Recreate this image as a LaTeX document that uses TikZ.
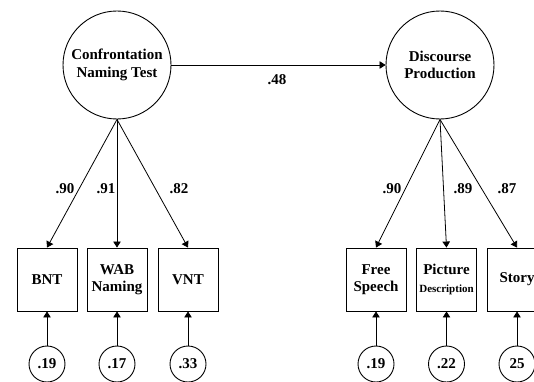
\documentclass[tikz,border=0pt]{standalone}
\usepackage{fontspec}
\setmainfont{Liberation Serif}
\usetikzlibrary{arrows.meta}
\newcommand\semfont{\fontsize{15}{17.6}\selectfont\bfseries}

\begin{document}
\begin{tikzpicture}[x=1pt,y=1pt,
  latent/.style={draw, line width=0.9pt, circle, minimum size=108pt, inner sep=0pt, align=center, font=\semfont},
  indic/.style={draw, line width=0.9pt, minimum width=60pt, minimum height=63pt, inner sep=0pt, align=center, font=\semfont},
  errc/.style={draw, line width=0.9pt, circle, minimum size=36pt, inner sep=0pt, font=\semfont},
  coef/.style={inner sep=0pt, font=\semfont},
  path/.style={line width=0.8pt, -{Triangle[length=6pt,width=7.5pt]}}]
 \clip (0,0) rectangle (534,381);
 % latent factors
 \node[latent] (cnt) at (117,316) {Confrontation\\Naming Test};
 \node[latent] (dp) at (440,316) {Discourse\\Production};
 \draw[path] (cnt) -- (dp);
 \node[coef] (b48) at (277,301) {.48};
 % indicators
 \node[indic] (bnt) at (47,101.5) {BNT};
 \node[indic] (wab) at (117,101.5) {WAB\\Naming};
 \node[indic] (vnt) at (188,101.5) {VNT};
 \node[indic] (fs) at (376,101.5) {Free\\Speech};
 \node[indic] (pic) at (446.5,101.5) {Picture\\{\fontsize{11}{13}\selectfont Description}};
 \node[indic] (sto) at (517,101.5) {Story};
 % loadings
 \foreach \f/\i in {cnt/bnt,cnt/wab,cnt/vnt,dp/fs,dp/pic,dp/sto}
  \draw[path] (\f.south) -- (\i.north);
 \node[coef] (l1) at (65,192) {.90};
 \node[coef] (l2) at (106,192) {.91};
 \node[coef] (l3) at (179,192) {.82};
 \node[coef] (l4) at (392,192) {.90};
 \node[coef] (l5) at (463,192) {.89};
 \node[coef] (l6) at (507,192) {.87};
 % errors
 \foreach \i/\v in {bnt/.19,wab/.17,vnt/.33,fs/.19,pic/.22,sto/25}{
  \node[errc] (e\i) at (\i |- 0,17) {\v};
  \draw[path] (e\i) -- (\i);
 }
\end{tikzpicture}
\end{document}
